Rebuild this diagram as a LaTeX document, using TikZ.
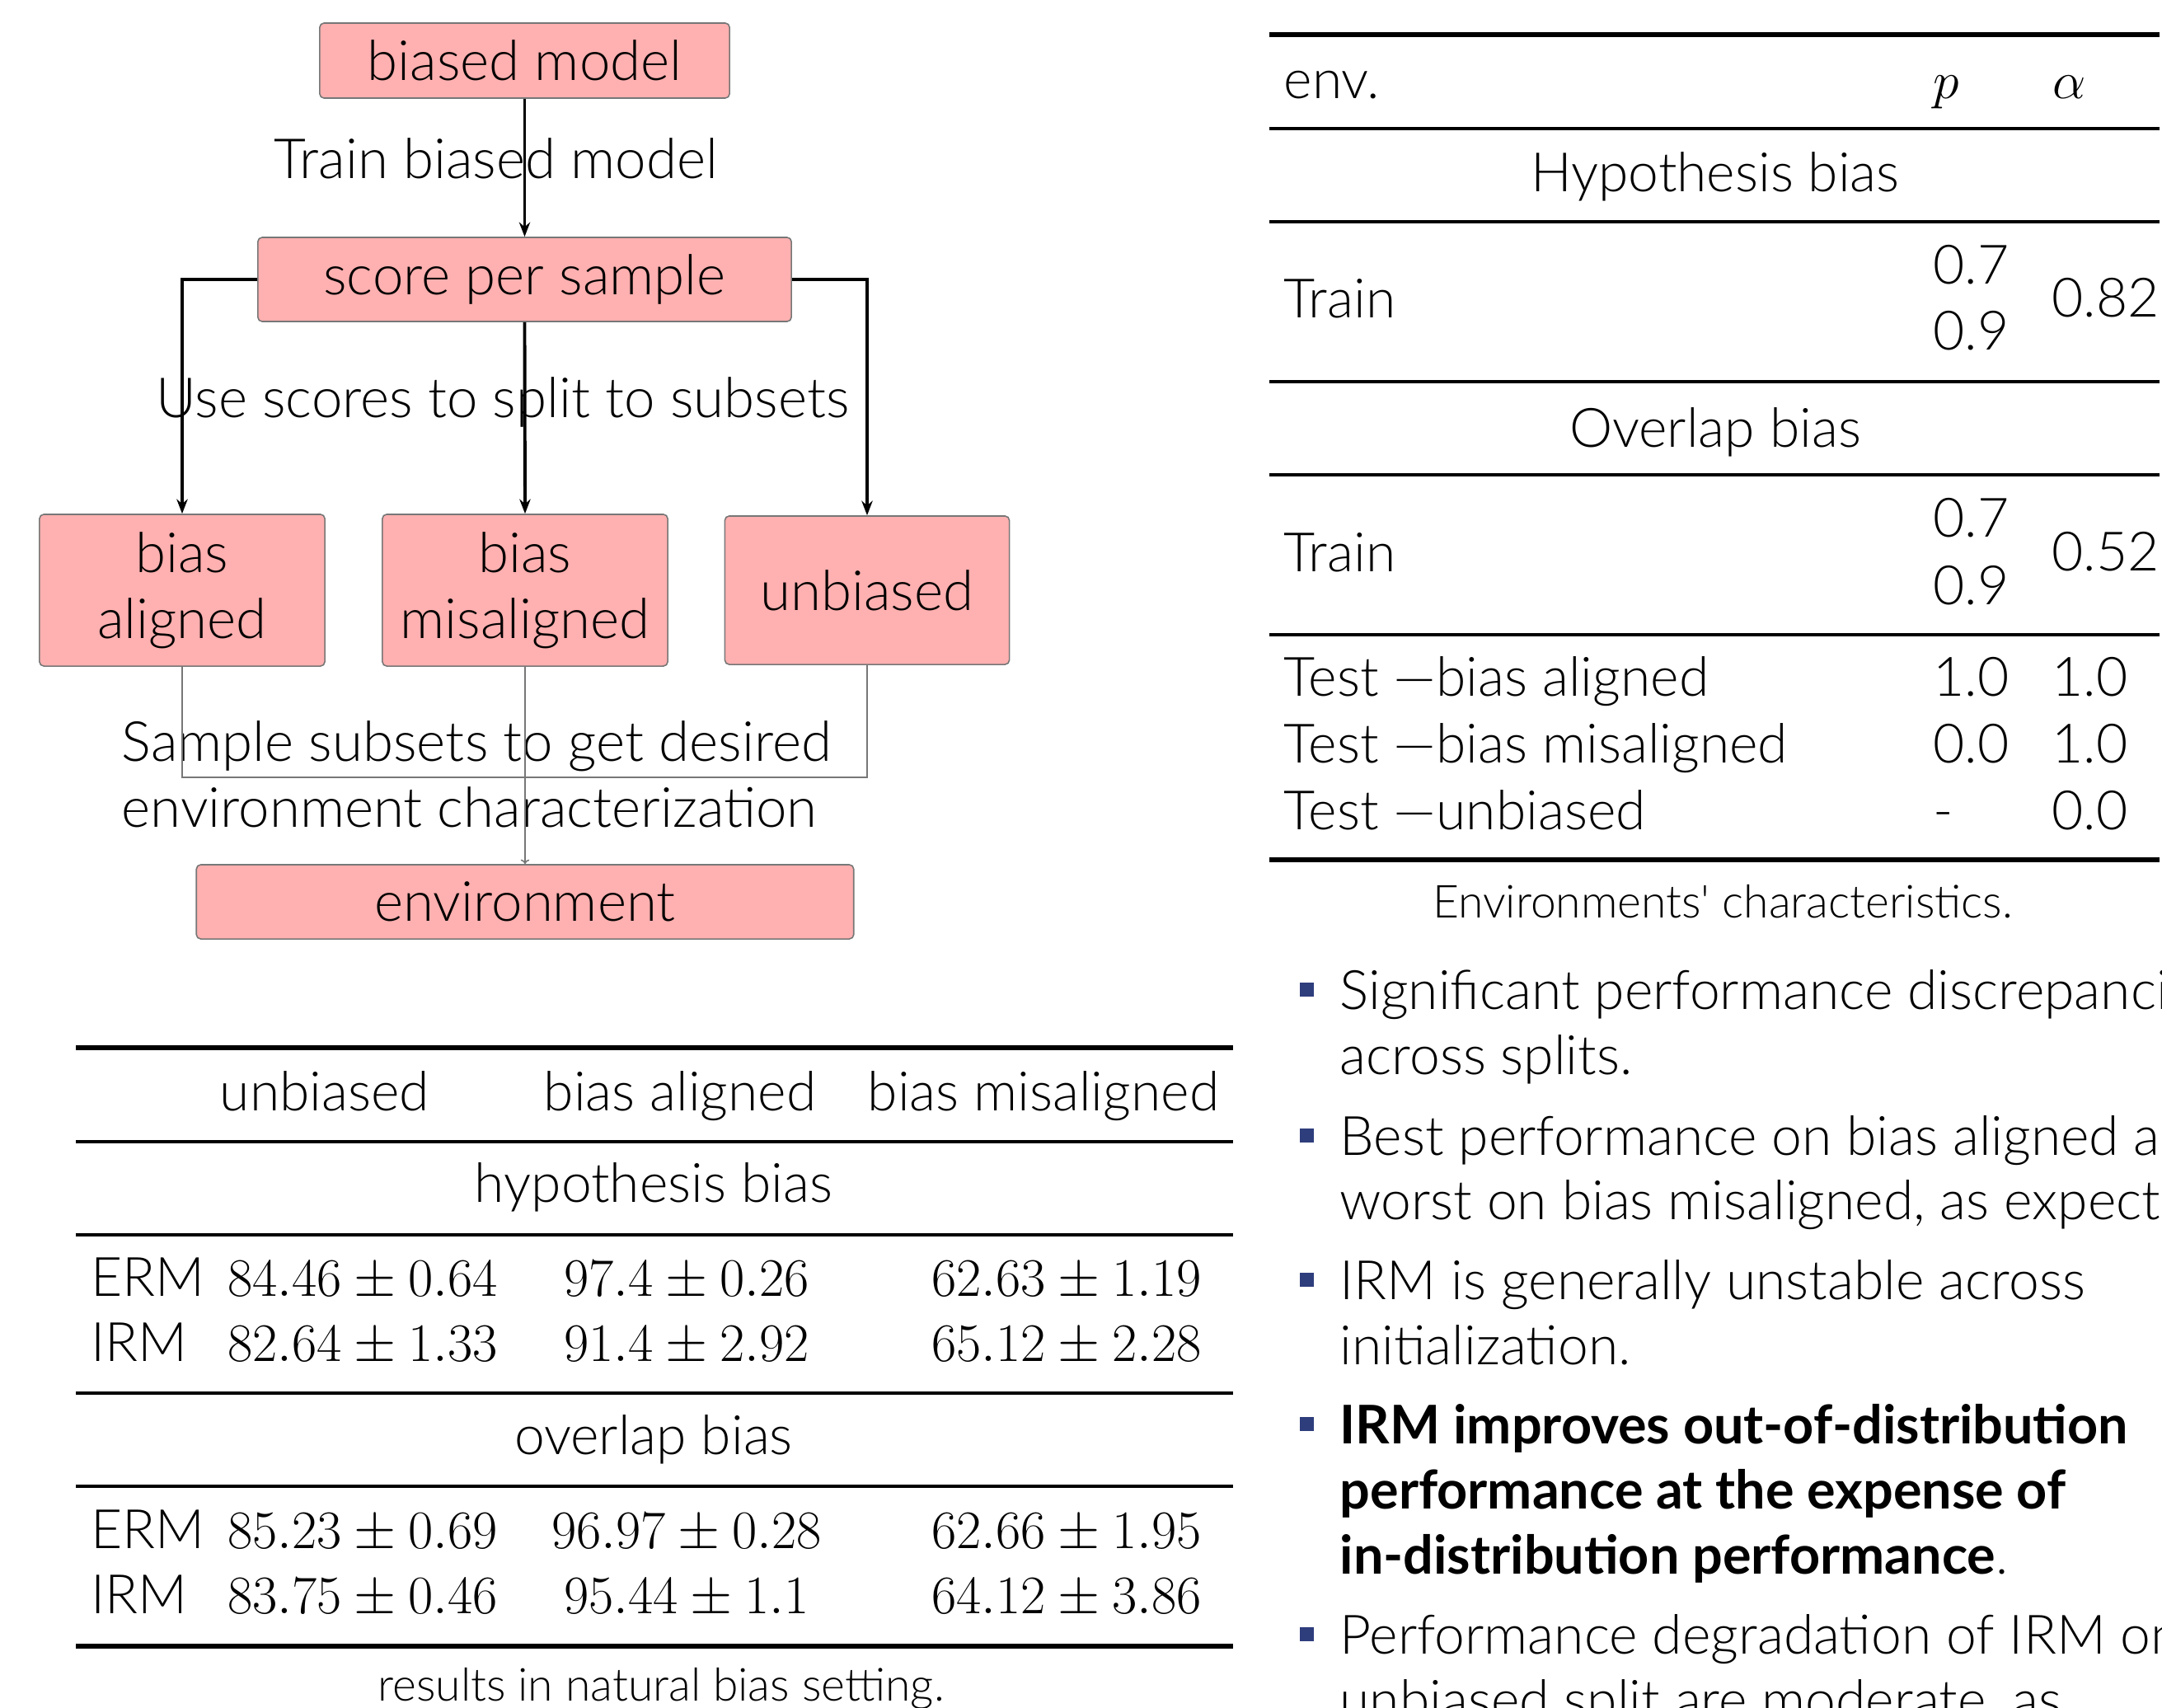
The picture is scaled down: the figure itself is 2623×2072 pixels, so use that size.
\RequirePackage{fix-cm}
\documentclass[tikz,border=0pt]{standalone}
\usepackage[no-math]{fontspec}
\IfFontExistsTF{Lato Light}{\setmainfont{Lato}[UprightFont={* Light}, BoldFont={* Bold}]}{\setmainfont{Lato}}
\usetikzlibrary{arrows.meta}
\definecolor{boxfill}{HTML}{FFB0B0}
\definecolor{boxline}{HTML}{777777}
\definecolor{bulletc}{HTML}{2E3D7C}
\tikzset{
  flowbox/.style={draw=boxline, fill=boxfill, line width=0.45pt, rounded corners=1.5pt, inner sep=0pt, align=center},
  arr/.style={line width=1.1pt, -{Stealth[length=5pt,width=3.8pt]}},
  thinline/.style={draw=boxline, line width=0.45pt},
  thinarr/.style={draw=boxline, line width=0.45pt, -{To[length=1.6pt,width=3pt]}},
  txt/.style={inner sep=0pt, anchor=base},
  txtl/.style={inner sep=0pt, anchor=base west},
  mth/.style={inner sep=0pt, anchor=base, font=\fontsize{18.7}{22.5}\selectfont},
  heavyrule/.style={line width=1.45pt},
  lightrule/.style={line width=0.9pt},
  capt/.style={inner sep=0pt, anchor=base, font=\fontsize{15.7}{18.8}\selectfont},
  bsq/.style={fill=bulletc, inner sep=0pt, minimum size=0.17cm},
  boldtxt/.style={inner sep=0pt, anchor=base west, font=\fontsize{18.4}{22.5}\selectfont\bfseries},
}
\begin{document}
\begin{tikzpicture}[x=0.01cm, y=-0.01cm, font=\fontsize{18.75}{22.6}\selectfont]
\useasboundingbox (0,0) rectangle (2623,2072);
\clip (0,0) rectangle (2623,2072);

% ---------------- flowchart ----------------
\begin{scope}[font=\fontsize{19.1}{22.8}\selectfont]
\node[flowbox, minimum width=4.97cm, minimum height=0.91cm] (bmodel) at (636.5,73.5) {biased model};
\node[flowbox, minimum width=6.47cm, minimum height=1.02cm] (sps) at (636.5,339) {score per sample};
\node[flowbox, minimum width=3.46cm, minimum height=1.84cm] (ba) at (221,716) {bias\\aligned};
\node[flowbox, minimum width=3.46cm, minimum height=1.84cm] (bmis) at (637,716) {bias\\misaligned};
\node[flowbox, minimum width=3.45cm, minimum height=1.80cm] (ub) at (1052,716) {unbiased};
\node[flowbox, minimum width=7.97cm, minimum height=0.90cm] (env) at (637,1094) {environment};

\node[txt] (lbl1) at (602,216) {Train biased model};
\node[txt] (lbl2) at (610,506) {Use scores to split to subsets};
\node[txtl] (lbl3a) at (147,923) {Sample subsets to get desired};
\node[txtl] (lbl3b) at (147,1003) {environment characterization};
\end{scope}

\draw[arr] (bmodel.south) -- (sps.north);
\draw[arr] (sps.west) -| (ba.north);
\draw[arr] (sps.south) -- (bmis.north);
\draw[arr] (sps.east) -| (ub.north);

\coordinate (join) at (637,943);
\draw[thinline] (ba.south) |- (join);
\draw[thinline] (ub.south) |- (join);
\draw[thinarr] (bmis.south) -- (env.north);

% ---------------- right table ----------------
\draw[heavyrule] (1540,42) -- (2620,42);
\draw[lightrule] (1540,156) -- (2620,156);
\draw[lightrule] (1540,269) -- (2620,269);
\draw[lightrule] (1540,463) -- (2620,463);
\draw[lightrule] (1540,576) -- (2620,576);
\draw[lightrule] (1540,770) -- (2620,770);
\draw[heavyrule] (1540,1043) -- (2620,1043);

\node[txtl] (rh1) at (1557,119) {env.};
\node[txtl, font=\fontsize{18.2}{22}\selectfont] (rh2) at (2345,119) {$p$};
\node[txtl, font=\fontsize{18.2}{22}\selectfont] (rh3) at (2490,119) {$\alpha$};

\node[txt] (rs1) at (2081,232) {Hypothesis bias};
\node[txtl] (rt1) at (1557,385) {Train};
\node[txtl] (rt1p1) at (2345,344) {0.7};
\node[txtl] (rt1p2) at (2345,424) {0.9};
\node[txtl] (rt1a) at (2489,384) {0.82};

\node[txt] (rs2) at (2081,542) {Overlap bias};
\node[txtl] (rt2) at (1557,693) {Train};
\node[txtl] (rt2p1) at (2345,651) {0.7};
\node[txtl] (rt2p2) at (2345,733) {0.9};
\node[txtl] (rt2a) at (2489,692) {0.52};

\node[txtl] (rt3) at (1557,844) {Test —bias aligned};
\node[txtl] (rt3p) at (2345,844) {1.0};
\node[txtl] (rt3a) at (2489,844) {1.0};
\node[txtl] (rt4) at (1557,925) {Test —bias misaligned};
\node[txtl] (rt4p) at (2345,925) {0.0};
\node[txtl] (rt4a) at (2489,925) {1.0};
\node[txtl] (rt5) at (1557,1006) {Test —unbiased};
\node[txtl] (rt5p) at (2345,1006) {-};
\node[txtl] (rt5a) at (2489,1006) {0.0};

\node[capt] (rcap) at (2090,1113) {Environments\textquotesingle{} characteristics.};

% ---------------- bottom table ----------------
\draw[heavyrule] (92,1271) -- (1496,1271);
\draw[lightrule] (92,1385) -- (1496,1385);
\draw[lightrule] (92,1498) -- (1496,1498);
\draw[lightrule] (92,1690) -- (1496,1690);
\draw[lightrule] (92,1803) -- (1496,1803);
\draw[heavyrule] (92,1997) -- (1496,1997);

\node[txt] (bh1) at (394,1347) {unbiased};
\node[txt] (bh2) at (825,1347) {bias aligned};
\node[txt] (bh3) at (1266,1347) {bias misaligned};

\node[txt] (bs1) at (793,1458) {hypothesis bias};
\node[txtl] (br1) at (110,1572) {ERM};
\node[mth] (br1a) at (440,1572) {$84.46\pm0.64$};
\node[mth] (br1b) at (833,1572) {$97.4\pm0.26$};
\node[mth] (br1c) at (1294,1572) {$62.63\pm1.19$};
\node[txtl] (br2) at (110,1651) {IRM};
\node[mth] (br2a) at (440,1651) {$82.64\pm1.33$};
\node[mth] (br2b) at (833,1651) {$91.4\pm2.92$};
\node[mth] (br2c) at (1294,1651) {$65.12\pm2.28$};

\node[txt] (bs2) at (793,1764) {overlap bias};
\node[txtl] (br3) at (110,1878) {ERM};
\node[mth] (br3a) at (440,1878) {$85.23\pm0.69$};
\node[mth] (br3b) at (833,1878) {$96.97\pm0.28$};
\node[mth] (br3c) at (1294,1878) {$62.66\pm1.95$};
\node[txtl] (br4) at (110,1957) {IRM};
\node[mth] (br4a) at (440,1957) {$83.75\pm0.46$};
\node[mth] (br4b) at (833,1957) {$95.44\pm1.1$};
\node[mth] (br4c) at (1294,1957) {$64.12\pm3.86$};

\node[capt] (bcap) at (802,2063) {results in natural bias setting.};

% ---------------- bullets ----------------
\node[bsq] (q1) at (1585,1200) {};
\node[txtl] (l1a) at (1625,1224) {Significant performance discrepancies};
\node[txtl] (l1b) at (1625,1303) {across splits.};
\node[bsq] (q2) at (1585,1377) {};
\node[txtl] (l2a) at (1625,1401) {Best performance on bias aligned and};
\node[txtl] (l2b) at (1625,1479) {worst on bias misaligned, as expected.};
\node[bsq] (q3) at (1585,1552) {};
\node[txtl] (l3a) at (1625,1576) {IRM is generally unstable across};
\node[txtl] (l3b) at (1625,1655) {initialization.};
\node[bsq] (q4) at (1585,1727) {};
\node[boldtxt] (l4a) at (1625,1751) {IRM improves out-of-distribution};
\node[boldtxt] (l4b) at (1625,1830) {performance at the expense of};
\node[boldtxt] (l4c) at (1625,1909) {in-distribution performance\mdseries.};
\node[bsq] (q5) at (1585,1982) {};
\node[txtl] (l5a) at (1625,2006) {Performance degradation of IRM on};
\node[txtl] (l5b) at (1625,2085) {unbiased split are moderate, as};
\end{tikzpicture}
\end{document}
